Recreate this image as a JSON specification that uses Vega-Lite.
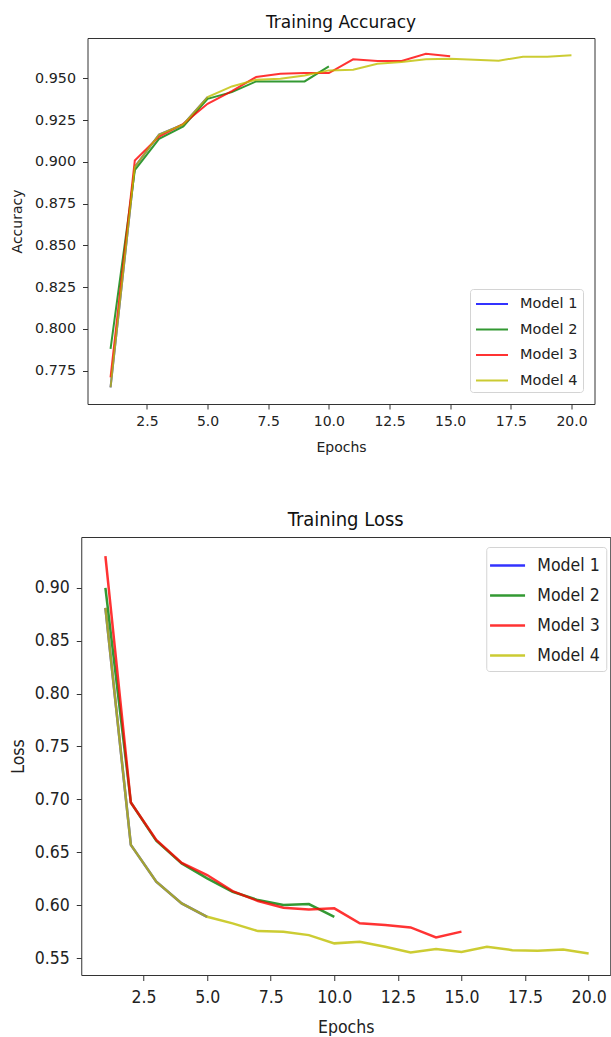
{
  "$schema": "https://vega.github.io/schema/vega-lite/v6.json",
  "background": "white",
  "padding": {"left": 9, "top": 13, "right": 0, "bottom": 0},
  "datasets": {
    "acc": [
      {"model": "Model 1", "epoch": 1, "value": 0.765},
      {"model": "Model 1", "epoch": 2, "value": 0.897},
      {"model": "Model 1", "epoch": 3, "value": 0.9164},
      {"model": "Model 1", "epoch": 4, "value": 0.9224},
      {"model": "Model 1", "epoch": 5, "value": 0.9388},
      {"model": "Model 2", "epoch": 1, "value": 0.788},
      {"model": "Model 2", "epoch": 2, "value": 0.895},
      {"model": "Model 2", "epoch": 3, "value": 0.9138},
      {"model": "Model 2", "epoch": 4, "value": 0.9212},
      {"model": "Model 2", "epoch": 5, "value": 0.9378},
      {"model": "Model 2", "epoch": 6, "value": 0.9418},
      {"model": "Model 2", "epoch": 7, "value": 0.9482},
      {"model": "Model 2", "epoch": 8, "value": 0.9482},
      {"model": "Model 2", "epoch": 9, "value": 0.9482},
      {"model": "Model 2", "epoch": 10, "value": 0.9572},
      {"model": "Model 3", "epoch": 1, "value": 0.771},
      {"model": "Model 3", "epoch": 2, "value": 0.9008},
      {"model": "Model 3", "epoch": 3, "value": 0.9152},
      {"model": "Model 3", "epoch": 4, "value": 0.9228},
      {"model": "Model 3", "epoch": 5, "value": 0.9348},
      {"model": "Model 3", "epoch": 6, "value": 0.9424},
      {"model": "Model 3", "epoch": 7, "value": 0.9508},
      {"model": "Model 3", "epoch": 8, "value": 0.9528},
      {"model": "Model 3", "epoch": 9, "value": 0.9532},
      {"model": "Model 3", "epoch": 10, "value": 0.9532},
      {"model": "Model 3", "epoch": 11, "value": 0.9614},
      {"model": "Model 3", "epoch": 12, "value": 0.9604},
      {"model": "Model 3", "epoch": 13, "value": 0.9604},
      {"model": "Model 3", "epoch": 14, "value": 0.9648},
      {"model": "Model 3", "epoch": 15, "value": 0.9632},
      {"model": "Model 4", "epoch": 1, "value": 0.765},
      {"model": "Model 4", "epoch": 2, "value": 0.897},
      {"model": "Model 4", "epoch": 3, "value": 0.9164},
      {"model": "Model 4", "epoch": 4, "value": 0.9224},
      {"model": "Model 4", "epoch": 5, "value": 0.9388},
      {"model": "Model 4", "epoch": 6, "value": 0.9452},
      {"model": "Model 4", "epoch": 7, "value": 0.9492},
      {"model": "Model 4", "epoch": 8, "value": 0.9498},
      {"model": "Model 4", "epoch": 9, "value": 0.9518},
      {"model": "Model 4", "epoch": 10, "value": 0.9548},
      {"model": "Model 4", "epoch": 11, "value": 0.9552},
      {"model": "Model 4", "epoch": 12, "value": 0.9588},
      {"model": "Model 4", "epoch": 13, "value": 0.9598},
      {"model": "Model 4", "epoch": 14, "value": 0.9614},
      {"model": "Model 4", "epoch": 15, "value": 0.9618},
      {"model": "Model 4", "epoch": 16, "value": 0.9612},
      {"model": "Model 4", "epoch": 17, "value": 0.9606},
      {"model": "Model 4", "epoch": 18, "value": 0.963},
      {"model": "Model 4", "epoch": 19, "value": 0.963},
      {"model": "Model 4", "epoch": 20, "value": 0.9638}
    ],
    "loss": [
      {"model": "Model 1", "epoch": 1, "value": 0.881},
      {"model": "Model 1", "epoch": 2, "value": 0.657},
      {"model": "Model 1", "epoch": 3, "value": 0.6222},
      {"model": "Model 1", "epoch": 4, "value": 0.6017},
      {"model": "Model 1", "epoch": 5, "value": 0.589},
      {"model": "Model 2", "epoch": 1, "value": 0.9},
      {"model": "Model 2", "epoch": 2, "value": 0.697},
      {"model": "Model 2", "epoch": 3, "value": 0.661},
      {"model": "Model 2", "epoch": 4, "value": 0.6395},
      {"model": "Model 2", "epoch": 5, "value": 0.6254},
      {"model": "Model 2", "epoch": 6, "value": 0.6127},
      {"model": "Model 2", "epoch": 7, "value": 0.6048},
      {"model": "Model 2", "epoch": 8, "value": 0.6001},
      {"model": "Model 2", "epoch": 9, "value": 0.601},
      {"model": "Model 2", "epoch": 10, "value": 0.589},
      {"model": "Model 3", "epoch": 1, "value": 0.93},
      {"model": "Model 3", "epoch": 2, "value": 0.697},
      {"model": "Model 3", "epoch": 3, "value": 0.6616},
      {"model": "Model 3", "epoch": 4, "value": 0.64},
      {"model": "Model 3", "epoch": 5, "value": 0.6285},
      {"model": "Model 3", "epoch": 6, "value": 0.6133},
      {"model": "Model 3", "epoch": 7, "value": 0.6039},
      {"model": "Model 3", "epoch": 8, "value": 0.5976},
      {"model": "Model 3", "epoch": 9, "value": 0.596},
      {"model": "Model 3", "epoch": 10, "value": 0.597},
      {"model": "Model 3", "epoch": 11, "value": 0.5828},
      {"model": "Model 3", "epoch": 12, "value": 0.5812},
      {"model": "Model 3", "epoch": 13, "value": 0.579},
      {"model": "Model 3", "epoch": 14, "value": 0.5695},
      {"model": "Model 3", "epoch": 15, "value": 0.575},
      {"model": "Model 4", "epoch": 1, "value": 0.881},
      {"model": "Model 4", "epoch": 2, "value": 0.657},
      {"model": "Model 4", "epoch": 3, "value": 0.6222},
      {"model": "Model 4", "epoch": 4, "value": 0.6017},
      {"model": "Model 4", "epoch": 5, "value": 0.589},
      {"model": "Model 4", "epoch": 6, "value": 0.5828},
      {"model": "Model 4", "epoch": 7, "value": 0.5755},
      {"model": "Model 4", "epoch": 8, "value": 0.5749},
      {"model": "Model 4", "epoch": 9, "value": 0.5717},
      {"model": "Model 4", "epoch": 10, "value": 0.5639},
      {"model": "Model 4", "epoch": 11, "value": 0.5655},
      {"model": "Model 4", "epoch": 12, "value": 0.5607},
      {"model": "Model 4", "epoch": 13, "value": 0.5553},
      {"model": "Model 4", "epoch": 14, "value": 0.5585},
      {"model": "Model 4", "epoch": 15, "value": 0.5558},
      {"model": "Model 4", "epoch": 16, "value": 0.5607},
      {"model": "Model 4", "epoch": 17, "value": 0.5575},
      {"model": "Model 4", "epoch": 18, "value": 0.5569},
      {"model": "Model 4", "epoch": 19, "value": 0.5582},
      {"model": "Model 4", "epoch": 20, "value": 0.5544}
    ]
  },
  "spacing": 54,
  "center": true,
  "resolve": {"scale": {"color": "independent"}, "legend": {"color": "independent"}},
  "vconcat": [
    {
      "spacing": 8,
      "resolve": {"scale": {"color": "independent"}, "legend": {"color": "independent"}},
      "hconcat": [
        {
          "width": 507,
          "height": 366,
          "title": {"text": "Training Accuracy", "fontSize": 17, "fontWeight": "normal", "font": "DejaVu Sans", "color": "#111", "offset": 6},
          "data": {"name": "acc"},
          "mark": {"type": "line", "strokeWidth": 2, "opacity": 0.8},
          "encoding": {
            "x": {
              "field": "epoch", "type": "quantitative",
              "scale": {"domain": [0.05, 20.95], "nice": false, "zero": false},
              "axis": {"values": [2.5, 5, 7.5, 10, 12.5, 15, 17.5, 20], "format": ".1f", "title": "Epochs", "titleY": 36,
                "labelFontSize": 14, "titleFontSize": 14, "tickSize": 5, "labelPadding": 5, "labelFont": "DejaVu Sans", "titleFont": "DejaVu Sans"}
            },
            "y": {
              "field": "value", "type": "quantitative",
              "scale": {"domain": [0.755, 0.9742], "nice": false, "zero": false},
              "axis": {"values": [0.775, 0.8, 0.825, 0.85, 0.875, 0.9, 0.925, 0.95], "format": ".3f", "title": "Accuracy", "titleX": -63,
                "labelFontSize": 14.3, "titleFontSize": 14, "tickSize": 5, "labelPadding": 7, "labelFont": "DejaVu Sans", "titleFont": "DejaVu Sans"}
            },
            "color": {
              "field": "model", "type": "nominal",
              "scale": {"domain": ["Model 1", "Model 2", "Model 3", "Model 4"], "range": ["#0000ff", "#008000", "#ff0000", "#bfbf00"]},
              "legend": {"orient": "none", "legendX": 382.5, "legendY": 251, "title": null,
                "symbolType": "M-1,0H2.556", "symbolSize": 324, "symbolStrokeWidth": 2, "symbolOpacity": 0.8,
                "labelFontSize": 14.5, "labelFont": "DejaVu Sans", "labelColor": "#222", "labelOffset": 25,
                "rowPadding": 8.5, "padding": 5, "fillColor": "white", "strokeColor": "#d4d4d4", "cornerRadius": 3}
            }
          }
        },
        {
          "width": 1,
          "height": 1,
          "view": {"stroke": null, "fill": null},
          "data": {"values": []},
          "mark": "point"
        }
      ]
    },
    {
      "resolve": {"scale": {"color": "independent"}, "legend": {"color": "independent"}},
      "hconcat": [
        {
          "width": 529,
          "height": 438,
          "title": {"text": "Training Loss", "fontSize": 20, "fontWeight": "normal", "font": "DejaVu Sans Condensed, DejaVu Sans", "color": "#111", "offset": 7},
          "data": {"name": "loss"},
          "mark": {"type": "line", "strokeWidth": 2.5, "opacity": 0.8},
          "encoding": {
            "x": {
              "field": "epoch", "type": "quantitative",
              "scale": {"domain": [0.05, 20.85], "nice": false, "zero": false},
              "axis": {"values": [2.5, 5, 7.5, 10, 12.5, 15, 17.5, 20], "format": ".1f", "title": "Epochs", "titleY": 43,
                "labelFontSize": 17.5, "titleFontSize": 17.5, "tickSize": 5.5, "labelPadding": 8, "labelFont": "DejaVu Sans Condensed, DejaVu Sans", "titleFont": "DejaVu Sans Condensed, DejaVu Sans"}
            },
            "y": {
              "field": "value", "type": "quantitative",
              "scale": {"domain": [0.534, 0.948], "nice": false, "zero": false},
              "axis": {"values": [0.55, 0.6, 0.65, 0.7, 0.75, 0.8, 0.85, 0.9], "format": ".2f", "title": "Loss", "titleX": -53.5,
                "labelFontSize": 17.5, "titleFontSize": 17.5, "tickSize": 5, "labelPadding": 7, "labelFont": "DejaVu Sans Condensed, DejaVu Sans", "titleFont": "DejaVu Sans Condensed, DejaVu Sans"}
            },
            "color": {
              "field": "model", "type": "nominal",
              "scale": {"domain": ["Model 1", "Model 2", "Model 3", "Model 4"], "range": ["#0000ff", "#008000", "#ff0000", "#bfbf00"]},
              "legend": {"orient": "none", "legendX": 405, "legendY": 10, "title": null,
                "symbolType": "M-1.4,0H1.933", "symbolSize": 441, "symbolStrokeWidth": 2.5, "symbolOpacity": 0.8,
                "labelFontSize": 17.5, "labelFont": "DejaVu Sans Condensed, DejaVu Sans", "labelColor": "#222", "labelOffset": 20.6,
                "rowPadding": 9, "padding": 6.5, "fillColor": "white", "strokeColor": "#d4d4d4", "cornerRadius": 3}
            }
          }
        }
      ]
    }
  ],
  "config": {
    "view": {"stroke": "#333", "strokeWidth": 1},
    "axis": {"grid": false, "domain": false, "tickColor": "#333", "tickWidth": 1, "labelColor": "#222", "titleColor": "#222", "titleFontWeight": "normal"}
  }
}
